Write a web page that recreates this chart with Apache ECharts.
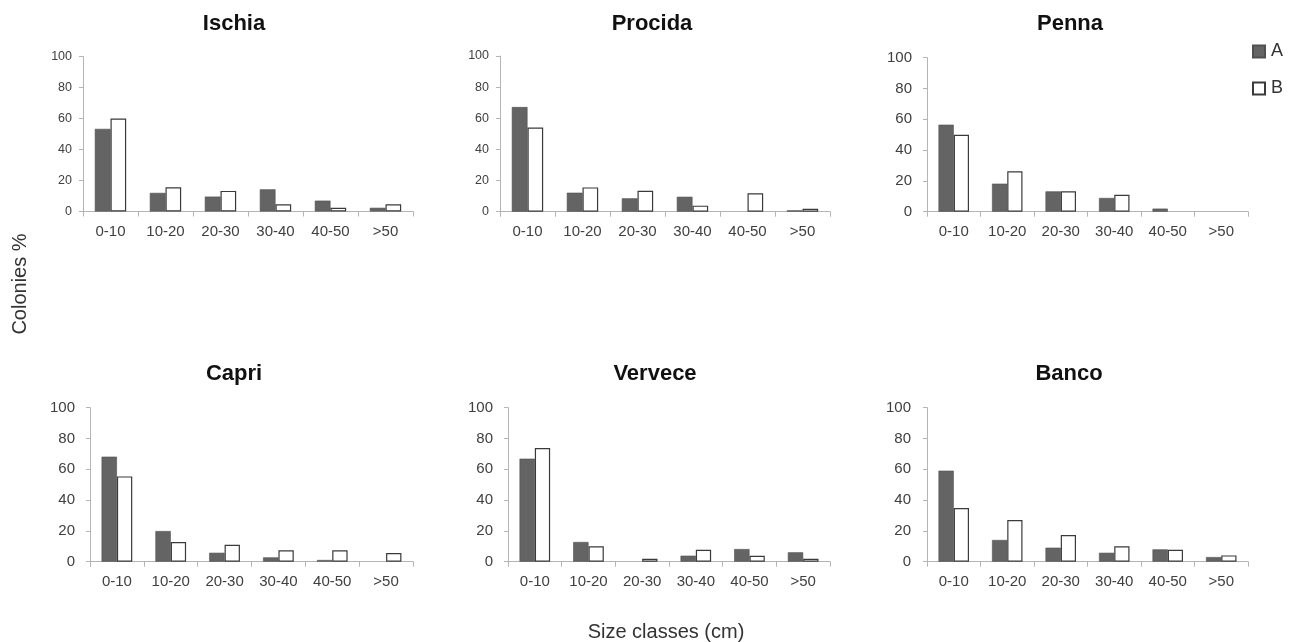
<!DOCTYPE html>
<html>
<head>
<meta charset="utf-8">
<script src="https://cdn.jsdelivr.net/npm/echarts@6/dist/echarts.min.js"></script>
<style>
html,body{margin:0;padding:0;background:#fff;}
#chart{width:1293px;height:642px;}
</style>
</head>
<body>
<div id="chart"></div>
<script>
const categories = ['0-10', '10-20', '20-30', '30-40', '40-50', '>50'];
const sites = ['Ischia', 'Procida', 'Penna', 'Capri', 'Vervece', 'Banco'];
const seriesNames = ['A', 'B'];
const yTicks = [0, 20, 40, 60, 80, 100];

const ischiaA  = [53.3, 12.0, 9.6, 14.3, 7.0, 2.4];
const ischiaB  = [60.0, 15.6, 13.3, 4.7, 2.4, 4.7];
const procidaA = [67.2, 12.2, 8.6, 9.6, 0, 0.9];
const procidaB = [54.0, 15.6, 13.5, 3.9, 11.8, 1.9];
const pennaA   = [56.5, 18.2, 13.2, 8.9, 2.0, 0];
const pennaB   = [50.0, 26.2, 13.2, 11.0, 0, 0];
const capriA   = [68.2, 19.9, 5.8, 2.8, 1.1, 0];
const capriB   = [55.4, 12.8, 11.0, 7.4, 7.4, 5.6];
const verveceA = [66.9, 12.8, 0, 3.9, 8.2, 6.1];
const verveceB = [73.8, 10.0, 1.9, 7.8, 3.9, 1.9];
const bancoA   = [59.1, 14.1, 9.1, 5.8, 8.0, 3.0];
const bancoB   = [34.8, 27.0, 17.3, 10.0, 7.8, 4.1];

const dataA = [ischiaA, procidaA, pennaA, capriA, verveceA, bancoA];
const dataB = [ischiaB, procidaB, pennaB, capriB, verveceB, bancoB];

// layout (pixels)
const grids = [
  {left: 83,  top: 56.5, width: 330, height: 155},
  {left: 500, top: 56,   width: 330, height: 155.7},
  {left: 927, top: 57.7, width: 321, height: 154},
  {left: 90,  top: 407.7, width: 323, height: 154},
  {left: 508, top: 407.7, width: 322, height: 154},
  {left: 927, top: 407.7, width: 321, height: 154}
];
const titlePos = [[234, 24], [652, 24], [1070, 24], [234, 374], [655, 374], [1069, 374]];
const yLabelFont = [12.5, 12.5, 15, 15, 15, 15];
const yLabelMargin = [11, 11, 15, 15, 15, 16];

const FONT = 'Liberation Sans, Arial, sans-serif';
const axisGray = '#b4b4b4';
const labelColor = '#404040';

const xAxis = [], yAxis = [], series = [], graphic = [];
grids.forEach((g, i) => {
  xAxis.push({
    type: 'category', gridIndex: i, data: categories, boundaryGap: true,
    axisLine: {show: true, lineStyle: {color: axisGray, width: 1}},
    axisTick: {show: true, length: 5, lineStyle: {color: axisGray}},
    axisLabel: {fontSize: 15, color: labelColor, fontFamily: FONT, margin: 13, interval: 0},
    splitLine: {show: false}
  });
  yAxis.push({
    type: 'value', gridIndex: i, min: 0, max: 100, interval: 20,
    axisLine: {show: true, lineStyle: {color: axisGray, width: 1}},
    axisTick: {show: true, length: 4, lineStyle: {color: axisGray}},
    axisLabel: {fontSize: yLabelFont[i], color: labelColor, fontFamily: FONT, margin: yLabelMargin[i]},
    splitLine: {show: false}
  });
  series.push({
    name: seriesNames[0], type: 'bar', xAxisIndex: i, yAxisIndex: i,
    data: dataA[i].map(v => v === 0 ? null : v),
    barWidth: '28.5%', barGap: '0%',
    itemStyle: {color: '#646464', borderColor: '#505050', borderWidth: 0.6},
    emphasis: {disabled: true}
  });
  series.push({
    name: seriesNames[1], type: 'bar', xAxisIndex: i, yAxisIndex: i,
    data: dataB[i].map(v => v === 0 ? null : v),
    barWidth: '28.5%', barGap: '0%',
    itemStyle: {color: '#ffffff', borderColor: '#3a3a3a', borderWidth: 1.2},
    emphasis: {disabled: true}
  });
  graphic.push({
    type: 'text', x: titlePos[i][0], y: titlePos[i][1],
    style: {text: sites[i], font: 'bold 22px ' + FONT, fill: '#111', align: 'center', verticalAlign: 'middle'}
  });
});

graphic.push({
  type: 'text', x: 20, y: 284, rotation: Math.PI / 2,
  style: {text: 'Colonies %', font: '20px ' + FONT, fill: '#333', align: 'center', verticalAlign: 'middle'}
});
graphic.push({
  type: 'text', x: 666, y: 632,
  style: {text: 'Size classes (cm)', font: '20px ' + FONT, fill: '#333', align: 'center', verticalAlign: 'middle'}
});

const chart = echarts.init(document.getElementById('chart'), null, {renderer: 'canvas'});
chart.setOption({
  animation: false,
  backgroundColor: '#fff',
  grid: grids.map(g => Object.assign({containLabel: false}, g)),
  xAxis, yAxis, series, graphic,
  legend: {
    data: seriesNames, orient: 'vertical', left: 1247, top: 37.5,
    itemWidth: 12, itemHeight: 12, itemGap: 19, icon: 'rect',
    textStyle: {fontSize: 18, color: '#333', fontFamily: FONT, padding: [0, 0, 0, 1]},
    selectedMode: false
  }
});
</script>
</body>
</html>
